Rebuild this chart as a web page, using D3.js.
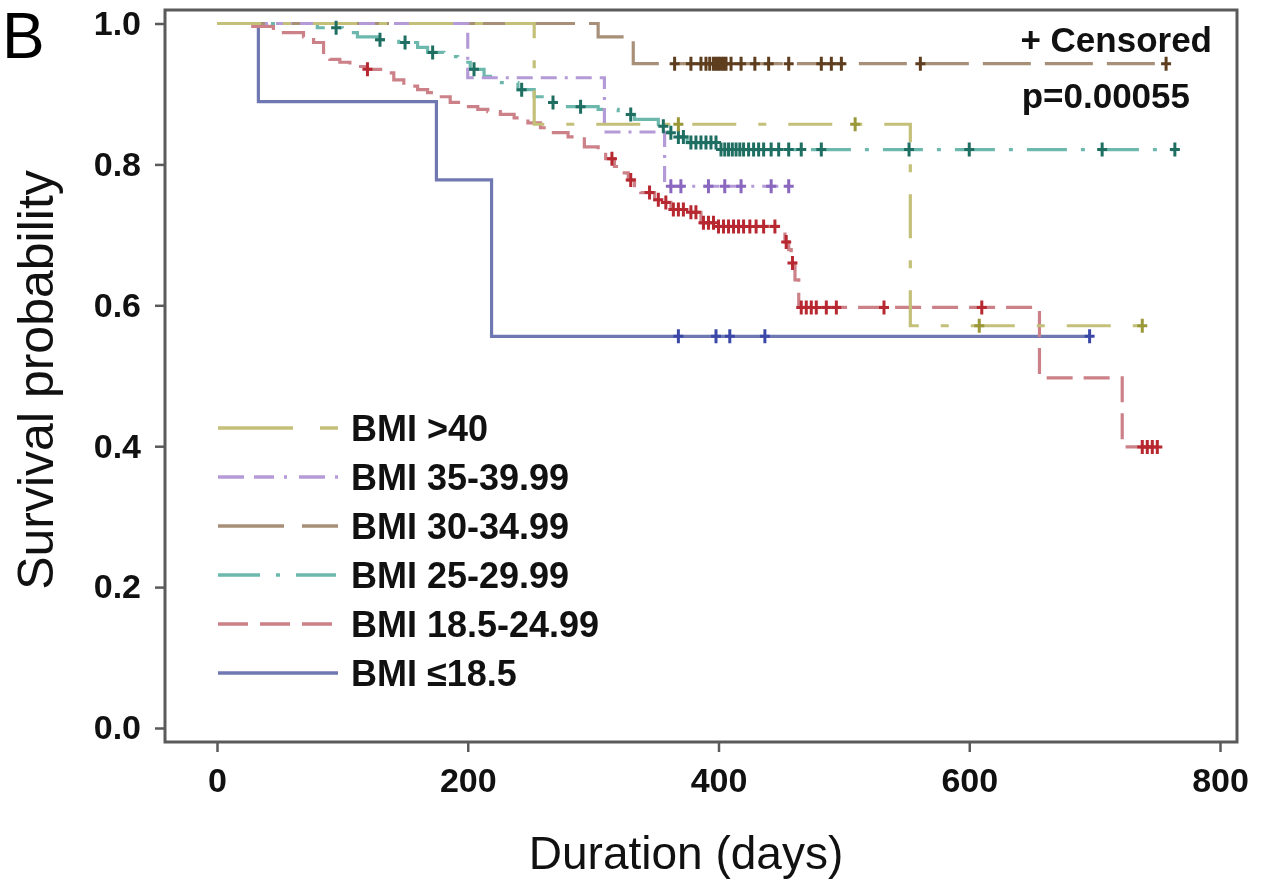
<!DOCTYPE html>
<html>
<head>
<meta charset="utf-8">
<script src="https://cdn.jsdelivr.net/npm/d3@7"></script>
<style>
  body { margin: 0; background: #fff; }
  svg { display: block; font-family: "Liberation Sans", Arial, sans-serif; filter: blur(0.5px); }
</style>
</head>
<body>
<svg width="1261" height="882"></svg>
<script>
// groups, in legend order (top to bottom)
const groups = ["BMI >40", "BMI 35-39.99", "BMI 30-34.99", "BMI 25-29.99", "BMI 18.5-24.99", "BMI \u226418.5"];

// Kaplan-Meier steps [day, survival]
const steps40 = [[0,1],[253,0.857],[553,0.571],[738,0.571]];
const steps35 = [[0,1],[200,0.923],[309,0.846],[357,0.769],[456,0.769]];
const steps30 = [[0,1],[304,0.981],[332,0.943],[757,0.943]];
const steps25 = [[0,1],[80,0.994],[100,0.987],[112,0.981],[128,0.977],[145,0.973],[160,0.966],[168,0.959],
  [181,0.953],[192,0.945],[202,0.935],[213,0.925],[224,0.916],[240,0.906],[253,0.896],[264,0.888],[277,0.882],
  [304,0.878],[320,0.871],[333,0.864],[352,0.854],[360,0.845],[365,0.839],[375,0.831],[400,0.821],[764,0.821]];
const steps18 = [[0,1],[24,0.996],[45,0.987],[69,0.981],[77,0.973],[85,0.959],[90,0.949],[98,0.945],[106,0.939],
  [120,0.935],[133,0.930],[141,0.920],[149,0.911],[160,0.906],[168,0.902],[176,0.896],[186,0.888],[197,0.882],
  [208,0.878],[216,0.875],[226,0.871],[237,0.866],[248,0.859],[258,0.852],[266,0.845],[280,0.839],[293,0.825],
  [304,0.817],[310,0.808],[317,0.797],[322,0.788],[328,0.778],[333,0.770],[338,0.760],[349,0.750],[357,0.746],
  [362,0.736],[376,0.732],[386,0.717],[400,0.712],[453,0.690],[456,0.679],[458,0.660],[461,0.636],[464,0.597],
  [656,0.497],[722,0.399],[752,0.399]];
const stepsLow = [[0,1],[33,0.889],[175,0.778],[219,0.556],[696,0.556]];

// censored times (days)
const cens40 = [368, 509, 608, 738];
const cens35 = [362, 370, 392, 405, 418, 442, 456];
const cens30 = [365, 378, 386, 390, 393, 396, 398, 400, 402, 404, 406, 410, 418, 429, 440, 456, 482, 490, 498, 561, 757];
const cens25 = [95, 130, 150, 172, 205, 243, 268, 290, 330, 356, 362, 368, 372, 378, 382, 386, 390, 394, 398, 402,
  405, 408, 411, 414, 417, 420, 424, 428, 432, 436, 442, 448, 456, 466, 482, 552, 600, 706, 764];
const cens18 = [120, 315, 330, 345, 352, 358, 364, 368, 372, 378, 382, 388, 392, 396, 400, 404, 408, 412, 416, 420,
  425, 430, 436, 445, 454, 459, 466, 470, 474, 478, 486, 494, 532, 610, 738, 742, 746, 750];
const censLow = [368, 398, 409, 437, 696];

const xTicks = [0, 200, 400, 600, 800];
const yTicks = [0.0, 0.2, 0.4, 0.6, 0.8, 1.0];

const allSteps = [steps40, steps35, steps30, steps25, steps18, stepsLow];
const allCens = [cens40, cens35, cens30, cens25, cens18, censLow];

const lineColors = ["#c4c07a", "#b49ad6", "#a89078", "#6cb8ac", "#cc8088", "#7078b2"];
const censColors = ["#9a9838", "#8a68c0", "#5e3e1e", "#1f6e62", "#b82830", "#3c48a8"];
const dashes = ["44,22,8,22", "16,8,16,8,3,8", "48,14", "40,14,4,14", "26,11", null];
const legendDashes = ["75,27,18,40", "26,10,20,10,3,12", "66,18,40", "42,16,4,16,40", "30,12", null];

const svg = d3.select('svg');
const x = d3.scaleLinear().domain([0, 800]).range([217, 1220]);
const y = d3.scaleLinear().domain([0, 1]).range([728, 23.5]);
const frameL = 165, frameT = 10, frameR = 1237, frameB = 742;
const axisColor = "#5a5a5a";

function survAt(steps, t) {
    let s = 1;
    steps.forEach(p => { if (p[0] <= t) s = p[1]; });
    return s;
}

// frame
svg.append('rect')
    .attr('x', frameL).attr('y', frameT)
    .attr('width', frameR - frameL).attr('height', frameB - frameT)
    .attr('fill', 'none').attr('stroke', axisColor).attr('stroke-width', 3);

// axes
let yAxis = d3.axisLeft(y).tickValues(yTicks).tickFormat(d3.format('.1f')).tickSize(10).tickSizeOuter(0).tickPadding(14);
let gy = svg.append('g').attr('transform', `translate(${frameL},0)`).call(yAxis);
let xAxis = d3.axisBottom(x).tickValues(xTicks).tickSize(10).tickSizeOuter(0).tickPadding(16);
let gx = svg.append('g').attr('transform', `translate(0,${frameB})`).call(xAxis);
[gx, gy].forEach(g => {
    g.select('.domain').remove();
    g.selectAll('line').attr('stroke', axisColor).attr('stroke-width', 2.5);
    g.selectAll('text').attr('fill', '#111').style('font-size', '34px').style('font-weight', 'bold')
        .style('font-family', '"Liberation Sans", Arial, sans-serif');
});

// curves
const line = d3.line().x(d => x(d[0])).y(d => y(d[1])).curve(d3.curveStepAfter);
const order = [5, 4, 3, 2, 1, 0];
order.forEach(i => {
    svg.append('path')
        .datum(allSteps[i])
        .attr('d', line)
        .attr('fill', 'none')
        .attr('stroke', lineColors[i])
        .attr('stroke-width', 3.2)
        .attr('stroke-dasharray', dashes[i]);
});

// censor marks
order.forEach(i => {
    svg.append('g').selectAll('path')
        .data(allCens[i])
        .enter().append('path')
        .attr('d', t => {
            let cx = x(t), cy = y(survAt(allSteps[i], t));
            return `M${cx - 5},${cy}H${cx + 5}M${cx},${cy - 7}V${cy + 7}`;
        })
        .attr('stroke', censColors[i])
        .attr('stroke-width', 3)
        .attr('fill', 'none');
});

// legend
const legendY = d3.scalePoint().domain(groups).range([428, 673]);
const lg = svg.append('g');
groups.forEach((g, i) => {
    lg.append('line')
        .attr('x1', 218).attr('x2', 338)
        .attr('y1', legendY(g)).attr('y2', legendY(g))
        .attr('stroke', lineColors[i]).attr('stroke-width', 3.5)
        .attr('stroke-dasharray', legendDashes[i]);
    lg.append('text')
        .attr('x', 351).attr('y', legendY(g) + 13)
        .attr('font-size', 36).attr('font-weight', 'bold').attr('fill', '#111')
        .text(g);
});

// annotations
svg.append('text').attr('x', 1212).attr('y', 52).attr('text-anchor', 'end')
    .attr('font-size', 35).attr('font-weight', 'bold').attr('fill', '#111').text('+ Censored');
svg.append('text').attr('x', 1190).attr('y', 108).attr('text-anchor', 'end')
    .attr('font-size', 35).attr('font-weight', 'bold').attr('fill', '#111').text('p=0.00055');

// axis titles
svg.append('text').attr('x', 686).attr('y', 869).attr('text-anchor', 'middle')
    .attr('font-size', 46).attr('fill', '#111').text('Duration (days)');
svg.append('text').attr('transform', 'translate(53,380) rotate(-90)').attr('text-anchor', 'middle')
    .attr('font-size', 50).attr('fill', '#111').text('Survival probability');

// panel letter
svg.append('text').attr('x', 2).attr('y', 58).attr('font-size', 64).attr('fill', '#000').text('B');
</script>
</body>
</html>
